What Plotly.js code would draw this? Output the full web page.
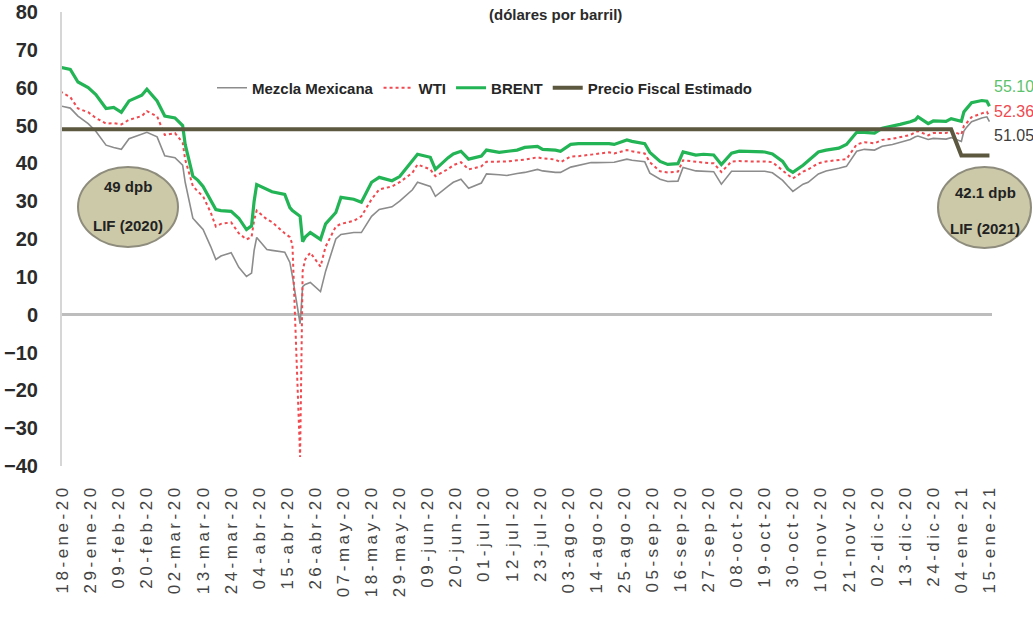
<!DOCTYPE html>
<html>
<head>
<meta charset="utf-8">
<script src="https://cdn.plot.ly/plotly-3.0.1.min.js"></script>
<style>
html,body{margin:0;padding:0;background:#fff;}
#chart{width:1033px;height:617px;}
#chart .xtick text{letter-spacing:3.5px;}
</style>
</head>
<body>
<div id="chart"></div>
<script>
// ---- DATA ----
const dates = ["2020-01-17","2020-01-21","2020-01-24","2020-01-28","2020-01-31","2020-02-04","2020-02-07","2020-02-10","2020-02-13","2020-02-18","2020-02-20","2020-02-24","2020-02-27","2020-03-02","2020-03-05","2020-03-06","2020-03-09","2020-03-11","2020-03-13","2020-03-16","2020-03-18","2020-03-20","2020-03-24","2020-03-27","2020-03-30","2020-04-01","2020-04-02","2020-04-03","2020-04-07","2020-04-09","2020-04-14","2020-04-16","2020-04-17","2020-04-20","2020-04-21","2020-04-22","2020-04-24","2020-04-28","2020-04-30","2020-05-04","2020-05-06","2020-05-11","2020-05-14","2020-05-18","2020-05-21","2020-05-26","2020-05-29","2020-06-03","2020-06-05","2020-06-10","2020-06-12","2020-06-17","2020-06-19","2020-06-22","2020-06-25","2020-06-30","2020-07-02","2020-07-07","2020-07-10","2020-07-14","2020-07-17","2020-07-22","2020-07-24","2020-07-29","2020-07-31","2020-08-04","2020-08-07","2020-08-12","2020-08-14","2020-08-19","2020-08-21","2020-08-26","2020-08-28","2020-09-02","2020-09-04","2020-09-08","2020-09-11","2020-09-15","2020-09-17","2020-09-22","2020-09-25","2020-09-29","2020-10-02","2020-10-06","2020-10-09","2020-10-14","2020-10-19","2020-10-22","2020-10-26","2020-10-28","2020-10-30","2020-11-03","2020-11-05","2020-11-09","2020-11-12","2020-11-17","2020-11-20","2020-11-24","2020-11-27","2020-12-01","2020-12-04","2020-12-08","2020-12-11","2020-12-15","2020-12-17","2020-12-18","2020-12-22","2020-12-24","2020-12-29","2020-12-31","2021-01-04","2021-01-05","2021-01-06","2021-01-08","2021-01-12","2021-01-14","2021-01-15"];

const mezclaMexicana = [55.2,54.6,52.5,50.5,48.5,44.8,44.2,43.7,46.5,47.8,48.2,47.0,42.0,41.5,39.5,35.0,25.5,24.0,22.5,18.0,14.6,15.5,16.4,12.5,10.1,11.0,17.0,20.4,17.2,17.0,16.5,13.8,10.1,-2.4,7.4,8.0,8.5,6.1,11.5,20.0,21.2,21.7,21.7,26.0,27.8,28.5,30.0,33.0,35.0,33.9,31.3,34.0,35.0,35.8,33.4,34.8,37.2,37.0,36.8,37.3,37.6,38.4,38.0,37.6,37.6,39.0,39.5,40.2,40.2,40.3,40.3,41.1,40.8,40.4,37.4,35.8,35.2,35.3,38.9,38.0,37.9,37.8,34.5,37.9,37.9,37.9,37.9,37.5,35.5,34.0,32.6,34.5,35.0,37.2,38.0,38.7,39.2,43.2,43.7,43.5,44.5,45.0,45.6,46.3,47.0,47.2,46.3,46.6,46.4,46.8,45.8,48.5,49.5,51.0,52.0,52.3,51.05];

const wti = [59.0,57.5,54.5,53.5,52.0,50.5,50.6,50.3,51.5,52.5,53.8,52.4,47.5,48.0,45.5,41.0,34.0,32.5,31.3,27.0,23.3,24.0,24.4,21.5,19.9,20.5,25.0,27.5,25.2,24.5,21.5,20.5,18.5,-37.6,11.5,14.6,16.4,12.7,18.0,23.3,24.0,24.8,26.0,30.5,33.1,33.9,35.0,37.5,39.7,38.4,36.6,38.5,39.5,40.3,38.4,39.2,40.4,40.4,40.5,40.8,41.0,41.6,41.3,41.0,40.3,41.8,41.9,42.3,42.5,42.9,42.6,43.5,43.2,42.6,40.3,37.9,37.6,37.8,40.8,40.3,40.2,40.0,37.7,40.5,40.6,40.5,40.5,40.3,38.0,37.0,36.0,37.8,38.4,40.0,40.5,40.8,41.1,45.0,45.6,45.3,46.2,46.5,46.9,47.5,48.2,48.5,47.4,48.0,48.0,48.5,47.6,49.9,50.6,52.2,53.2,53.6,52.36];

const brent = [65.4,64.8,61.5,60.0,58.2,54.5,54.8,53.5,56.5,58.0,59.6,56.5,52.5,52.0,50.0,45.0,36.6,35.5,33.9,30.0,27.8,27.5,27.3,25.5,22.5,23.5,30.0,34.4,33.1,32.5,31.8,28.3,27.5,26.0,19.3,20.5,21.7,19.9,24.0,27.0,31.0,30.5,29.7,35.0,36.3,35.4,36.5,40.5,42.4,41.6,38.4,41.5,42.5,43.2,41.1,41.9,43.5,42.9,43.2,43.5,44.2,44.5,43.7,43.5,43.2,45.0,45.2,45.2,45.4,45.2,45.0,46.2,45.8,45.2,42.9,40.5,39.7,39.9,43.0,42.2,42.4,42.2,39.7,42.7,43.2,43.2,43.0,42.5,40.5,38.5,37.6,39.5,40.6,43.0,43.5,44.0,45.0,48.2,48.2,48.0,49.3,49.8,50.3,51.0,51.5,52.3,50.5,51.2,51.1,51.8,51.1,53.6,54.3,56.0,56.6,56.4,55.10];

const fiscalDates = ["2020-01-17","2020-12-31","2021-01-04","2021-01-15"];
const precioFiscal = [49, 49, 42.1, 42.1];

const tickLabels = ["18-ene-20","29-ene-20","09-feb-20","20-feb-20","02-mar-20","13-mar-20","24-mar-20","04-abr-20","15-abr-20","26-abr-20","07-may-20","18-may-20","29-may-20","09-jun-20","20-jun-20","01-jul-20","12-jul-20","23-jul-20","03-ago-20","14-ago-20","25-ago-20","05-sep-20","16-sep-20","27-sep-20","08-oct-20","19-oct-20","30-oct-20","10-nov-20","21-nov-20","02-dic-20","13-dic-20","24-dic-20","04-ene-21","15-ene-21"];

const seriesNames = ["Mezcla Mexicana","WTI","BRENT","Precio Fiscal Estimado"];
const endLabels = ["55.10","52.36","51.05"];
const lifLabels = [["49 dpb","LIF (2020)"],["42.1 dpb","LIF (2021)"]];
const subtitle = "(dólares por barril)";

// ---- helpers ----
const monthMap = {ene:"01",feb:"02",mar:"03",abr:"04",may:"05",jun:"06",jul:"07",ago:"08",sep:"09",oct:"10",nov:"11",dic:"12"};
const tickVals = tickLabels.map(t => { const p = t.split("-"); return "20"+p[2]+"-"+monthMap[p[1]]+"-"+p[0]; });

const SANS = '"Liberation Sans", Arial, sans-serif';

// plot area in px
const L = 62, R = 41, T = 12, B = 151, W = 1033, H = 617;
const pw = W - L - R, ph = H - T - B;
const px = x => (x - L) / pw;
const py = y => (H - B - y) / ph;

const traces = [
  {x: dates, y: mezclaMexicana, name: seriesNames[0], type: "scatter", mode: "lines",
   line: {color: "#8c8c8c", width: 1.6}},
  {x: dates, y: wti, name: seriesNames[1], type: "scatter", mode: "lines",
   line: {color: "#f0494f", width: 2, dash: "dot"}},
  {x: dates, y: brent, name: seriesNames[2], type: "scatter", mode: "lines",
   line: {color: "#22b455", width: 3.2}},
  {x: fiscalDates, y: precioFiscal, name: seriesNames[3], type: "scatter", mode: "lines",
   line: {color: "#5c5840", width: 4}}
];

const ellipseFill = "#ccc9a9";
const ellipseLine = "#8e8c7c";
const lifFont = {family: SANS, size: 15, color: "#222", weight: "bold"};

const layout = {
  width: W, height: H,
  margin: {l: L, r: R, t: T, b: B, pad: 0},
  paper_bgcolor: "#ffffff", plot_bgcolor: "#ffffff",
  showlegend: true,
  legend: {orientation: "h", x: px(212), y: py(88), xanchor: "left", yanchor: "middle",
    font: {family: SANS, size: 15, color: "#262626", weight: "bold"},
    bgcolor: "rgba(0,0,0,0)", itemwidth: 30, tracegroupgap: 0},
  xaxis: {type: "date", range: ["2020-01-17 18:00", "2021-01-16"],
    tickmode: "array", tickvals: tickVals, ticktext: tickLabels, tickangle: -90,
    tickfont: {family: SANS, size: 17, color: "#444444"},
    showgrid: false, zeroline: false, showline: false, ticks: "", ticklabelstandoff: 14, fixedrange: true},
  yaxis: {range: [-40, 80], tickmode: "array", tickvals: [-40,-30,-20,-10,0,10,20,30,40,50,60,70,80],
    tickfont: {family: SANS, size: 20, color: "#2b2b2b", weight: "bold"},
    showgrid: false, zeroline: true, zerolinecolor: "#bdbdbd", zerolinewidth: 2.5,
    showline: true, linecolor: "#d6d6d6", linewidth: 2, ticks: "", ticklabelstandoff: 18, fixedrange: true},
  shapes: [
    {type: "circle", xref: "paper", yref: "paper", x0: px(78), x1: px(178), y0: py(247), y1: py(167),
     fillcolor: ellipseFill, line: {color: ellipseLine, width: 2}, layer: "above"},
    {type: "circle", xref: "paper", yref: "paper", x0: px(938), x1: px(1031), y0: py(248), y1: py(167),
     fillcolor: ellipseFill, line: {color: ellipseLine, width: 2}, layer: "above"}
  ],
  annotations: [
    {xref: "paper", yref: "paper", x: px(555), y: py(14), text: subtitle, showarrow: false,
     font: {family: SANS, size: 15, color: "#2b2b2b", weight: "bold"}, xanchor: "center", yanchor: "middle"},
    {xref: "paper", yref: "paper", x: px(128), y: py(186), text: lifLabels[0][0], showarrow: false,
     xanchor: "center", yanchor: "middle", font: lifFont},
    {xref: "paper", yref: "paper", x: px(128), y: py(225), text: lifLabels[0][1], showarrow: false,
     xanchor: "center", yanchor: "middle", font: lifFont},
    {xref: "paper", yref: "paper", x: px(985), y: py(192), text: lifLabels[1][0], showarrow: false,
     xanchor: "center", yanchor: "middle", font: lifFont},
    {xref: "paper", yref: "paper", x: px(985), y: py(228), text: lifLabels[1][1], showarrow: false,
     xanchor: "center", yanchor: "middle", font: lifFont},
    {xref: "paper", yref: "paper", x: px(992), y: py(87), text: endLabels[0], showarrow: false,
     xanchor: "left", yanchor: "middle", font: {family: SANS, size: 16, color: "#5cc26c"}},
    {xref: "paper", yref: "paper", x: px(992), y: py(111), text: endLabels[1], showarrow: false,
     xanchor: "left", yanchor: "middle", font: {family: SANS, size: 16, color: "#ef4a50"}},
    {xref: "paper", yref: "paper", x: px(992), y: py(135), text: endLabels[2], showarrow: false,
     xanchor: "left", yanchor: "middle", font: {family: SANS, size: 16, color: "#3d3d3d"}}
  ]
};

Plotly.newPlot("chart", traces, layout, {displayModeBar: false, staticPlot: true});
</script>
</body>
</html>
